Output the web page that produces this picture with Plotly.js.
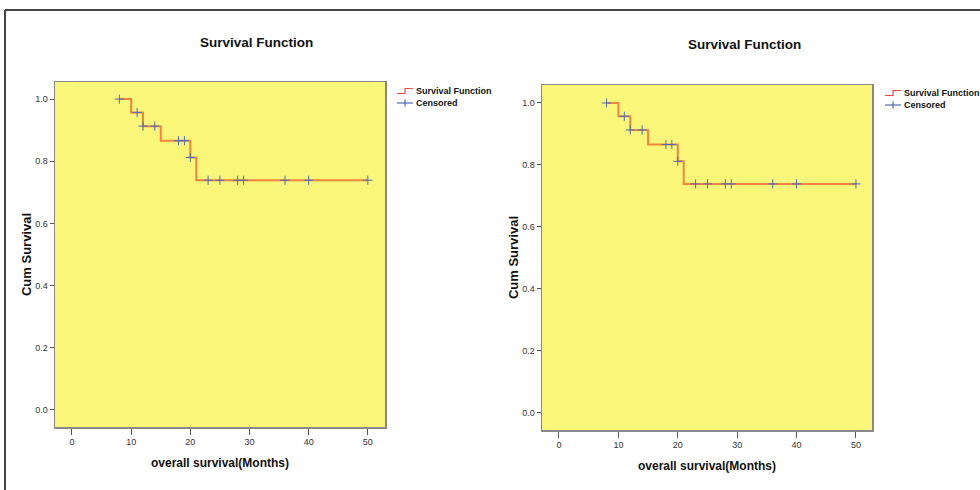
<!DOCTYPE html>
<html>
<head>
<meta charset="utf-8">
<script src="https://cdn.plot.ly/plotly-3.0.1.min.js"></script>
<style>html,body{margin:0;padding:0;background:#fff;}#chart{width:980px;height:490px;}</style>
</head>
<body>
<div id="chart"></div>
<script>
// Kaplan-Meier step data (same data in both panels)
const stepTimes = [8, 10, 12, 15, 20, 21, 50];
const stepSurvival = [1.0, 0.957, 0.913, 0.866, 0.812, 0.739, 0.739];
const censorTimes = [8, 11, 12, 14, 18, 19, 20, 23, 25, 28, 29, 36, 40, 50];
const censorSurvival = [1.0, 0.957, 0.913, 0.913, 0.866, 0.866, 0.812, 0.739, 0.739, 0.739, 0.739, 0.739, 0.739, 0.739];
const xTicks = [0, 10, 20, 30, 40, 50];
const yTicks = [0.0, 0.2, 0.4, 0.6, 0.8, 1.0];
const panelTitle = "Survival Function";
const xTitle = "overall survival(Months)";
const yTitle = "Cum Survival";
const seriesNames = ["Survival Function", "Censored"];

const FONT = "Liberation Sans, Arial, sans-serif";
const lineColor = "#f3843f";
const legendLineColor = "#e94a45";
const markColor = "#4d6db4";
const plotBg = "#f9f67a";
const W = 980, H = 490;
const px = v => v / W, py = v => 1 - v / H;

function traces(xa, ya) {
  return [
    {x: stepTimes, y: stepSurvival, type: 'scatter', mode: 'lines', line: {shape: 'hv', color: lineColor, width: 2},
     name: seriesNames[0], xaxis: xa, yaxis: ya, hoverinfo: 'skip', showlegend: false},
    {x: censorTimes, y: censorSurvival, type: 'scatter', mode: 'markers',
     marker: {symbol: 'cross-thin-open', size: 6.5, color: markColor, line: {color: markColor, width: 1}},
     name: seriesNames[1], xaxis: xa, yaxis: ya, hoverinfo: 'skip', showlegend: false}
  ];
}

const data = traces('x', 'y').concat(traces('x2', 'y2'));

function xax(domain, range, anchor) {
  return {domain: domain, range: range, anchor: anchor, tickvals: xTicks, ticktext: xTicks.map(String),
    showgrid: false, zeroline: false, ticks: 'outside', ticklen: 6, tickcolor: '#555', tickwidth: 1,
    showline: true, linecolor: '#888', linewidth: 1.5, mirror: true,
    tickfont: {family: FONT, size: 9, color: '#333'},
    title: {text: xTitle, standoff: 12, font: {family: FONT, size: 12, color: '#111', weight: 'bold'}}};
}
function yax(domain, range, anchor) {
  return {domain: domain, range: range, anchor: anchor, tickvals: yTicks, ticktext: yTicks.map(v => v.toFixed(1)),
    showgrid: false, zeroline: false, ticks: 'outside', ticklen: 4, tickcolor: '#555', tickwidth: 1,
    showline: true, linecolor: '#888', linewidth: 1.5, mirror: true,
    tickfont: {family: FONT, size: 9, color: '#333'},
    title: {text: yTitle, standoff: 0, font: {family: FONT, size: 13, color: '#111', weight: 'bold'}}};
}

// manual legends (text as annotations, icons as shapes)
function legend(x0, yTop, annotations, shapes) {
  const y1 = yTop, y2 = yTop + 12;
  shapes.push({type: 'path', xref: 'paper', yref: 'paper',
    path: `M ${px(x0)} ${py(y1 + 2.5)} L ${px(x0 + 8)} ${py(y1 + 2.5)} L ${px(x0 + 8)} ${py(y1 - 2.5)} L ${px(x0 + 16)} ${py(y1 - 2.5)}`,
    line: {color: legendLineColor, width: 1.2}});
  shapes.push({type: 'line', xref: 'paper', yref: 'paper', x0: px(x0), x1: px(x0 + 16), y0: py(y2), y1: py(y2),
    line: {color: markColor, width: 1.2}});
  shapes.push({type: 'line', xref: 'paper', yref: 'paper', x0: px(x0 + 8), x1: px(x0 + 8), y0: py(y2 - 3.5), y1: py(y2 + 3.5),
    line: {color: markColor, width: 1.2}});
  [seriesNames[0], seriesNames[1]].forEach((t, i) => {
    annotations.push({text: t, xref: 'paper', yref: 'paper', x: px(x0 + 17), y: py(i ? y2 : y1),
      xanchor: 'left', yanchor: 'middle', showarrow: false,
      font: {family: FONT, size: 9, color: '#111', weight: 'bold'}});
  });
}

const annotations = [
  {text: panelTitle, xref: 'paper', yref: 'paper', x: px(256), y: py(43), xanchor: 'center', yanchor: 'middle',
   showarrow: false, font: {family: FONT, size: 13.5, color: '#111', weight: 'bold'}},
  {text: panelTitle, xref: 'paper', yref: 'paper', x: px(744), y: py(45), xanchor: 'center', yanchor: 'middle',
   showarrow: false, font: {family: FONT, size: 13.5, color: '#111', weight: 'bold'}}
];
const shapes = [
  {type: 'line', xref: 'paper', yref: 'paper', x0: px(5), x1: 1, y0: py(10), y1: py(10), line: {color: '#444', width: 2}},
  {type: 'line', xref: 'paper', yref: 'paper', x0: px(5), x1: px(5), y0: 0, y1: py(10), line: {color: '#444', width: 2}}
];
legend(397, 91, annotations, shapes);
legend(885, 93, annotations, shapes);

const layout = {
  width: W, height: H,
  margin: {l: 0, r: 0, t: 0, b: 0, autoexpand: false},
  paper_bgcolor: '#fff',
  plot_bgcolor: plotBg,
  showlegend: false,
  xaxis: xax([px(55), px(385)], [-2.87, 52.9], 'y'),
  yaxis: yax([1 - 427 / H, 1 - 82 / H], [-0.055, 1.055], 'x'),
  xaxis2: xax([px(542), px(872)], [-2.86, 52.7], 'y2'),
  yaxis2: yax([1 - 430 / H, 1 - 85 / H], [-0.055, 1.058], 'x2'),
  annotations: annotations,
  shapes: shapes
};

Plotly.newPlot('chart', data, layout, {staticPlot: true, displayModeBar: false});
</script>
</body>
</html>
